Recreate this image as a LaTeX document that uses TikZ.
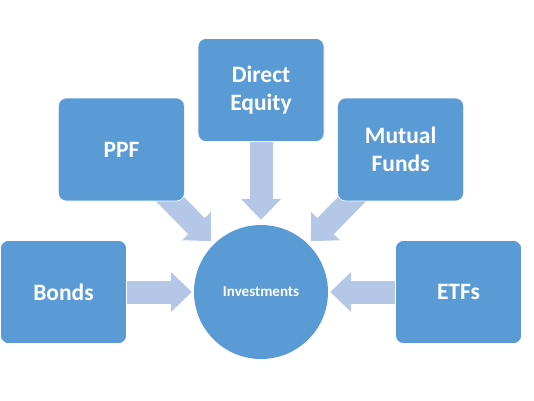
\documentclass[tikz,border=0pt]{standalone}
\usepackage{fontspec}
\setmainfont{Carlito}
\usepackage{xcolor}
\usetikzlibrary{arrows.meta, positioning, backgrounds}
\definecolor{boxblue}{HTML}{5B9BD5}
\definecolor{arrowblue}{HTML}{B4C7E7}

\begin{document}
\begin{tikzpicture}[
        x=1pt, y=1pt,
        box/.style={draw=white, line width=0.6pt, fill=boxblue, rounded corners=8pt, align=center,
            minimum width=126pt, minimum height=103pt, text=white, font=\fontsize{23.5}{28.5}\selectfont\bfseries},
        hub/.style={circle, fill=boxblue, minimum size=134pt, text=white, font=\fontsize{15}{18}\selectfont\bfseries},
        bigarrow/.style={arrowblue, line width=23pt, -{Triangle[width=39pt, length=21pt]}}
    ]
    \useasboundingbox (0,0) rectangle (534,-400);

    % Nodes
    \node[hub] (inv) at (261,-292) {Investments};
    \node[box, left=67pt of inv] (bonds) {Bonds};
    \node[box, right=67pt of inv] (etfs) {ETFs};
    \node[box, above=83pt of inv] (equity) {Direct\\Equity};
    \node[box, left=13pt of equity, yshift=-59.5pt] (ppf) {PPF};
    \node[box, right=13pt of equity, yshift=-59.5pt] (funds) {Mutual\\Funds};

    % Arrows
    \begin{pgfonlayer}{background}
    \draw[bigarrow, shorten >=2pt] (bonds.center) -- (inv);
    \draw[bigarrow, shorten >=2pt] (etfs.center) -- (inv);
    \draw[bigarrow, shorten >=5pt] (equity.center) -- (inv);
    \draw[bigarrow, shorten >=4pt] (ppf.center) -- (inv);
    \draw[bigarrow, shorten >=4pt] (funds.center) -- (inv);
    \end{pgfonlayer}

\end{tikzpicture}
\end{document}
